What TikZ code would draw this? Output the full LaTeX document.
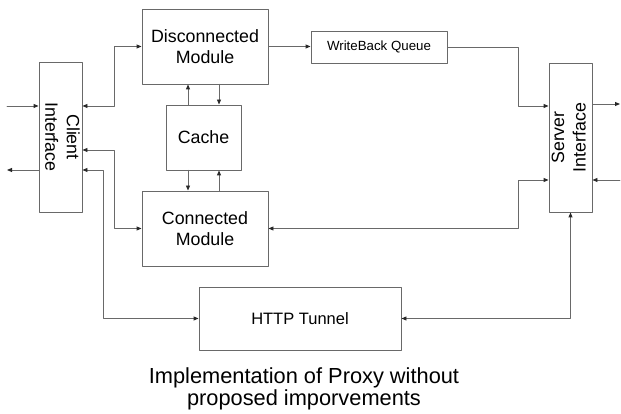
\documentclass[tikz,border=0pt]{standalone}
\usepackage{fontspec}
\setmainfont{Liberation Sans}
\usepackage{graphicx}
\usepackage{tikz}
\usetikzlibrary{arrows.meta}

\definecolor{linegray}{RGB}{105,105,105}
\definecolor{tipgray}{RGB}{40,40,40}

\begin{document}
\begin{tikzpicture}[line cap=round,line join=round,>={Triangle[length=5pt,width=4pt,color=tipgray]},x=1pt,y=1pt,
    box/.style={draw=linegray, line width=0.9pt, inner sep=0pt, align=center, font=\fontsize{17.8}{21.5}\selectfont},
    arr/.style={draw=linegray, line width=0.9pt}]
                    \useasboundingbox (0,0) rectangle (621,414);

                    % boxes
                    \node[box, minimum width=41, minimum height=150] (client) at (60.5,277)
                        {\rotatebox{-90}{\begin{tabular}{@{}c@{}}Client\\Interface\end{tabular}}};
                    \node[box, minimum width=126, minimum height=75] (disc) at (205,367.5) {Disconnected\\Module};
                    \node[box, minimum width=75, minimum height=65] (cache) at (203.5,276.5) {Cache};
                    \node[box, minimum width=126, minimum height=75] (conn) at (205,185.5) {Connected\\Module};
                    \node[box, minimum width=136, minimum height=32, font=\fontsize{13.3}{16}\selectfont] (wbq) at (379,367) {WriteBack Queue};
                    \node[box, minimum width=43, minimum height=149] (server) at (570.5,276.5)
                        {\rotatebox{90}{\begin{tabular}{@{}c@{}}Server\\Interface\end{tabular}}};
                    \node[box, minimum width=202, minimum height=63, font=\fontsize{16.5}{20}\selectfont] (http) at (300,95.5) {HTTP Tunnel};

                    \node[align=center, font=\fontsize{21.8}{22.5}\selectfont] (caption) at (304,25)
                        {Implementation of Proxy without\\proposed imporvements};

                    % free ends
                    \coordinate (cin) at (7,308);
                    \coordinate (cout) at (7,244);
                    \coordinate (sout) at (620,310);
                    \coordinate (sin) at (620,234);

                    % client side
                    \draw [arr,->] (cin) -- (cin -| client.west);
                    \draw [arr,->] (cout -| client.west) -- (cout);
                    \draw [arr,<->] (client.east |- 0,308) -- (114,308) |- (disc.west);
                    \draw [arr,<->] (client.east |- 0,264) -- (114,264) |- (conn.west);
                    \draw [arr,<->] (client.east |- 0,244) -- (103,244) |- (http.west);

                    % cache
                    \draw [arr,->] (disc.south -| 219,0) -- (cache.north -| 219,0);
                    \draw [arr,->] (cache.north -| 188,0) -- (disc.south -| 188,0);
                    \draw [arr,->] (cache.south -| 188,0) -- (conn.north -| 188,0);
                    \draw [arr,->] (conn.north -| 219,0) -- (cache.south -| 219,0);

                    % server side
                    \draw [arr,->] (disc.east) -- (disc.east -| wbq.west);
                    \draw [arr,->] (wbq.east) -| (518,308) -- (server.west |- 0,308);
                    \draw [arr,<->] (conn.east) -- (518,185.5) |- (server.west |- 0,234);
                    \draw [arr,->] (server.east |- sout) -- (sout);
                    \draw [arr,->] (sin) -- (sin -| server.east);
                    \draw [arr,<->] (server.south) |- (http.east);
                \end{tikzpicture}
\end{document}
